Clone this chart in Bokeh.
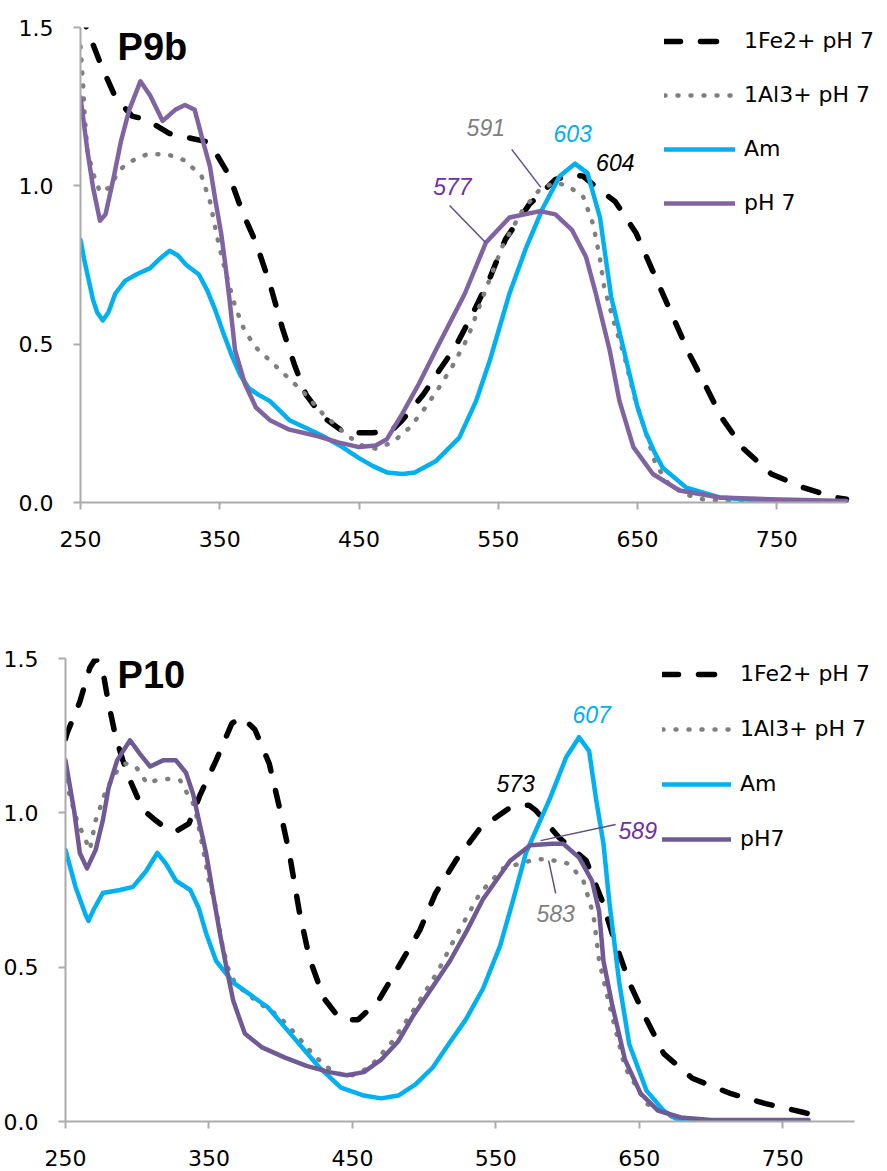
from bokeh.plotting import figure
from bokeh.layouts import column, row
from bokeh.models import Legend, LegendItem, Label, FixedTicker, Range1d, PrintfTickFormatter, Spacer
from bokeh.embed import file_html
from bokeh.resources import INLINE

# ---------------- data ----------------
X_TICKS = [250, 350, 450, 550, 650, 750]
Y_TICKS = [0.0, 0.5, 1.0, 1.5]

top_names = ["1Fe2+ pH 7", "1Al3+ pH 7", "Am", "pH 7"]
bot_names = ["1Fe2+ pH 7", "1Al3+ pH 7", "Am", "pH7"]

# P9b
p9b_fe_nm = [250, 256, 264, 275, 287, 297, 314, 340, 345, 357, 366, 376, 386, 395, 404, 412, 424, 440, 460, 474,
             481, 496, 508, 519, 532, 544, 555, 572, 591, 604, 611, 622, 634, 649, 661, 670, 679, 687, 697, 710,
             726, 746, 769, 792, 800]
p9b_fe_abs = [1.55, 1.48, 1.39, 1.28, 1.22, 1.21, 1.165, 1.14, 1.12, 1.03, 0.92, 0.82, 0.69, 0.55, 0.43, 0.34, 0.27,
              0.22, 0.22, 0.23, 0.26, 0.34, 0.42, 0.49, 0.60, 0.71, 0.83, 0.94, 1.02, 1.035, 1.03, 0.99, 0.95, 0.85,
              0.73, 0.64, 0.55, 0.47, 0.385, 0.27, 0.17, 0.09, 0.047, 0.016, 0.01]

p9b_al_nm = [250, 252, 253, 255, 259, 264, 271, 278, 285, 298, 312, 325, 337, 343, 348, 354, 361, 368, 377, 388,
             400, 412, 424, 442, 452, 462, 474, 486, 496, 507, 517, 528, 539, 553, 567, 580, 591, 600, 611, 618,
             623, 626, 633, 640, 648, 656, 663, 672, 685, 697, 720, 800]
p9b_al_abs = [1.44, 1.31, 1.22, 1.11, 1.04, 0.98, 0.995, 1.05, 1.075, 1.10, 1.10, 1.08, 1.03, 0.95, 0.84, 0.73, 0.62,
              0.54, 0.485, 0.44, 0.39, 0.34, 0.28, 0.21, 0.18, 0.17, 0.19, 0.235, 0.29, 0.36, 0.43, 0.52, 0.65, 0.81,
              0.92, 0.99, 1.01, 1.0, 0.965, 0.88, 0.77, 0.68, 0.57, 0.47, 0.33, 0.22, 0.12, 0.06, 0.025, 0.01,
              0.003, 0.0]

p9b_am_nm = [250, 253, 259, 262, 266, 270, 275, 282, 290, 300, 307, 314, 320, 326, 335, 341, 347, 353, 359, 365,
             371, 378, 386, 393, 400, 412, 424, 438, 450, 460, 470, 481, 490, 505, 522, 534, 544, 558, 570, 582,
             594, 605, 614, 623, 631, 638, 644, 650, 656, 662, 668, 685, 709, 747, 800]
p9b_am_abs = [0.83, 0.76, 0.64, 0.60, 0.575, 0.60, 0.66, 0.70, 0.72, 0.74, 0.77, 0.795, 0.78, 0.75, 0.72, 0.67, 0.605,
              0.53, 0.46, 0.40, 0.36, 0.34, 0.32, 0.29, 0.26, 0.235, 0.21, 0.175, 0.14, 0.115, 0.095, 0.09, 0.095,
              0.13, 0.205, 0.32, 0.45, 0.66, 0.805, 0.93, 1.03, 1.07, 1.04, 0.90, 0.65, 0.52, 0.41, 0.30, 0.22,
              0.16, 0.11, 0.047, 0.016, 0.003, 0.0]

p9b_ph_nm = [250, 255, 259, 264, 268, 274, 279, 285, 293, 300, 309, 318, 325, 332, 338, 343, 347, 351, 354, 357,
             361, 368, 376, 386, 400, 420, 435, 450, 462, 470, 481, 493, 505, 526, 541, 558, 580, 591, 603, 613,
             620, 625, 630, 637, 647, 661, 680, 709, 745, 800]
p9b_ph_abs = [1.28, 1.11, 0.995, 0.89, 0.91, 1.03, 1.14, 1.24, 1.33, 1.285, 1.205, 1.24, 1.255, 1.24, 1.14, 1.06,
              0.95, 0.85, 0.75, 0.64, 0.48, 0.375, 0.30, 0.26, 0.23, 0.21, 0.19, 0.175, 0.18, 0.20, 0.28, 0.375,
              0.48, 0.66, 0.82, 0.90, 0.92, 0.91, 0.86, 0.775, 0.66, 0.57, 0.48, 0.32, 0.175, 0.09, 0.038, 0.016,
              0.01, 0.005]

# P10
p10_fe_nm = [250, 251, 260, 267, 271, 276, 280, 285, 290, 295, 304, 313, 320, 327, 336, 344, 355, 366, 373, 382,
             392, 399, 406, 413, 420, 430, 440, 446, 454, 468, 482, 497, 508, 522, 539, 560, 573, 578, 594, 613,
             624, 631, 643, 655, 667, 687, 714, 738, 764, 768]
p10_fe_abs = [1.24, 1.257, 1.36, 1.47, 1.50, 1.46, 1.355, 1.245, 1.17, 1.105, 1.01, 0.975, 0.95, 0.94, 0.965, 1.06,
              1.17, 1.29, 1.31, 1.27, 1.16, 1.02, 0.87, 0.68, 0.53, 0.40, 0.34, 0.33, 0.33, 0.39, 0.50, 0.62, 0.74,
              0.845, 0.95, 1.017, 1.025, 1.007, 0.92, 0.845, 0.716, 0.61, 0.45, 0.33, 0.22, 0.14, 0.09, 0.058,
              0.03, 0.025]

p10_al_nm = [250, 258, 267, 271, 278, 285, 292, 299, 307, 313, 321, 330, 334, 339, 341, 346, 350, 355, 359, 363,
             368, 375, 383, 399, 410, 424, 438, 450, 462, 478, 494, 510, 521, 533, 539, 555, 578, 586, 601, 611,
             618, 622, 629, 640, 655, 675, 700, 768]
p10_al_abs = [1.105, 0.975, 0.88, 0.975, 1.07, 1.13, 1.16, 1.15, 1.095, 1.105, 1.11, 1.105, 1.07, 1.03, 0.998, 0.88,
              0.78, 0.69, 0.58, 0.50, 0.45, 0.42, 0.39, 0.34, 0.285, 0.21, 0.155, 0.15, 0.175, 0.26, 0.37, 0.49,
              0.59, 0.69, 0.74, 0.82, 0.85, 0.85, 0.835, 0.78, 0.67, 0.52, 0.38, 0.175, 0.058, 0.01, 0.003, 0.0]

p10_am_nm = [250, 257, 264, 266, 270, 276, 288, 297, 306, 314, 320, 327, 337, 343, 348, 355, 367, 379, 391, 403,
             415, 427, 442, 458, 470, 482, 494, 506, 517, 529, 541, 553, 561, 571, 588, 599, 608, 615, 620, 625,
             629, 636, 643, 655, 667, 675, 700, 768]
p10_am_abs = [0.88, 0.76, 0.67, 0.65, 0.69, 0.74, 0.75, 0.76, 0.81, 0.87, 0.835, 0.78, 0.75, 0.69, 0.61, 0.52, 0.45,
              0.41, 0.37, 0.305, 0.24, 0.175, 0.11, 0.084, 0.075, 0.084, 0.12, 0.175, 0.25, 0.33, 0.43, 0.57, 0.70,
              0.87, 1.05, 1.18, 1.245, 1.20, 1.04, 0.90, 0.715, 0.45, 0.25, 0.10, 0.035, 0.01, 0.0, 0.0]

p10_ph_nm = [250, 256, 260, 265, 271, 276, 280, 286, 295, 302, 309, 318, 327, 334, 339, 343, 348, 354, 358, 363,
             367, 375, 387, 403, 418, 434, 446, 458, 470, 482, 492, 505, 518, 530, 541, 560, 574, 589, 597, 608,
             617, 622, 625, 631, 636, 640, 651, 663, 679, 700, 768]
p10_ph_abs = [1.17, 1.007, 0.87, 0.82, 0.88, 0.975, 1.08, 1.17, 1.235, 1.19, 1.15, 1.17, 1.17, 1.13, 1.06, 0.975,
              0.87, 0.705, 0.60, 0.48, 0.39, 0.285, 0.24, 0.207, 0.18, 0.16, 0.15, 0.16, 0.20, 0.26, 0.34, 0.43,
              0.52, 0.62, 0.72, 0.845, 0.895, 0.90, 0.90, 0.855, 0.78, 0.68, 0.52, 0.38, 0.28, 0.20, 0.09, 0.035,
              0.013, 0.005, 0.005]

# peak annotation texts
top_peak_text = ["591", "603", "604", "577"]
bot_peak_text = ["607", "573", "589", "583"]

# ---------------- styling ----------------
TICK_FONT = "DejaVu Sans"
AXIS_COLOR = "#ababab"

STYLES = [
    dict(line_color="black", line_width=5.5, line_dash="16 20", line_cap="round"),
    dict(line_color="#7f7f7f", line_width=4.5, line_dash="1 12", line_cap="round"),
    dict(line_color="#00b0f0", line_width=4.5, line_cap="round", line_join="round"),
    dict(line_color="#8064a2", line_width=4.5, line_cap="round", line_join="round"),
]


def make_panel(series, names, frame_w, frame_h, x_end, borders, y_standoff, x_standoff, legend_loc,
               legend_spacing, glyph_w, purple):
    bl, br, bt, bb = borders
    p = figure(frame_width=frame_w, frame_height=frame_h, output_backend="svg", toolbar_location=None,
               x_range=Range1d(250, x_end), y_range=Range1d(0, 1.5),
               min_border_left=bl, min_border_right=br, min_border_top=bt, min_border_bottom=bb)
    p.outline_line_color = None
    p.xgrid.visible = False
    p.ygrid.visible = False
    for ax in (p.xaxis[0], p.yaxis[0]):
        ax.axis_line_color = AXIS_COLOR
        ax.axis_line_width = 2
        ax.major_tick_line_color = AXIS_COLOR
        ax.major_tick_line_width = 2
        ax.major_tick_out = 7
        ax.major_tick_in = 0
        ax.minor_tick_line_color = None
        ax.major_label_text_font = TICK_FONT
        ax.major_label_text_font_size = "22px"
        ax.major_label_text_color = "black"
    p.xaxis.ticker = FixedTicker(ticks=X_TICKS)
    p.xaxis.bounds = (250, 800)
    p.yaxis.ticker = FixedTicker(ticks=Y_TICKS)
    p.yaxis.formatter = PrintfTickFormatter(format="%.1f")
    p.yaxis.major_label_standoff = y_standoff
    p.xaxis.major_label_standoff = x_standoff

    renderers = []
    for i, (xs, ys) in enumerate(series):
        st = dict(STYLES[i])
        if i == 3:
            st["line_color"] = purple
        renderers.append(p.line(xs, ys, **st))

    legend = Legend(items=[LegendItem(label=n, renderers=[r]) for n, r in zip(names, renderers)],
                    location=legend_loc, orientation="vertical",
                    glyph_width=glyph_w, glyph_height=24, label_height=24, spacing=legend_spacing,
                    label_standoff=9, padding=0, margin=0,
                    border_line_alpha=0, background_fill_alpha=0,
                    label_text_font=TICK_FONT, label_text_font_size="22px", label_text_color="black")
    p.add_layout(legend)
    return p


def peak_label(p, text, x, y, color):
    p.add_layout(Label(x=x, y=y, text=text, text_color=color, text_font="Liberation Sans",
                       text_font_style="italic", text_font_size="23px", text_align="center",
                       text_baseline="middle"))


def title_label(p, text, x, y):
    p.add_layout(Label(x=x, y=y, text=text, text_color="black", text_font="Liberation Sans",
                       text_font_style="bold", text_font_size="38px", text_align="left",
                       text_baseline="alphabetic"))


LEADER = "#5f4b8b"

# top panel: frame 78..880 px (15 px spacer + 63 px border), axis drawn 250..800
top = make_panel([(p9b_fe_nm, p9b_fe_abs), (p9b_al_nm, p9b_al_abs), (p9b_am_nm, p9b_am_abs),
                  (p9b_ph_nm, p9b_ph_abs)], top_names,
                 802, 475, 250 + 802 * 550 / 766, (63, 7, 27, 49), 20, 21, (584, 287), 29, 71, "#8064a2")
title_label(top, "P9b", 276.6, 1.440)
peak_label(top, top_peak_text[0], 541, 1.184, "#7f7f7f")
peak_label(top, top_peak_text[1], 603.4, 1.165, "#00b0f0")
peak_label(top, top_peak_text[2], 634, 1.074, "black")
peak_label(top, top_peak_text[3], 517, 0.998, "#7030a0")
top.segment(x0=[559.6, 515], y0=[1.115, 0.938], x1=[580.5, 541], y1=[0.995, 0.82], line_color=LEADER,
            line_width=1.5)

# bottom panel: frame 63..880 px
bot = make_panel([(p10_fe_nm, p10_fe_abs), (p10_al_nm, p10_al_abs), (p10_am_nm, p10_am_abs),
                  (p10_ph_nm, p10_ph_abs)], bot_names,
                 817, 463, 250 + 817 * 550 / 789, (63, 7, 107, 50), 20, 21, (597, 270), 30, 69, "#6f5a96")
title_label(bot, "P10", 286.3, 1.445)
peak_label(bot, bot_peak_text[0], 616.8, 1.318, "#00b0f0")
peak_label(bot, bot_peak_text[1], 563.8, 1.095, "black")
peak_label(bot, bot_peak_text[2], 648.9, 0.943, "#7030a0")
peak_label(bot, bot_peak_text[3], 591.7, 0.674, "#7f7f7f")
bot.segment(x0=[633.5, 586.8], y0=[0.962, 0.845], x1=[581.2, 591.7], y1=[0.910, 0.739], line_color=LEADER,
            line_width=1.5)

layout = column(row(Spacer(width=15, height=551), top, spacing=0), bot, spacing=0)
open("out.html", "w").write(file_html(layout, INLINE))
